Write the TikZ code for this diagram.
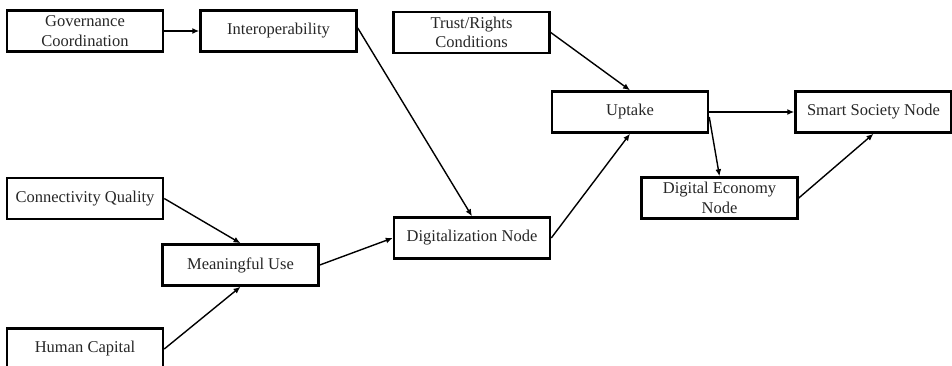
\documentclass[tikz,border=0pt]{standalone}
\usepackage{fontspec}
\setmainfont{Liberation Serif}
\usetikzlibrary{arrows.meta}
\begin{document}
\begin{tikzpicture}[x=1pt,y=-1pt,
  box/.style={draw, line width=2.5pt, minimum width=156pt, minimum height=41pt,
    inner sep=0pt, align=center, text=black!85, font=\fontsize{16.5}{19.5}\selectfont},
  arr/.style={line width=1.4pt, -{Latex[length=7pt,width=6pt]}}]
\useasboundingbox (0,0) rectangle (952,366);
\clip (0,0) rectangle (952,366);
\node[box] (gov) at (85,31) {Governance\\Coordination};
\node[box] (inter) at (278.5,31) {Interoperability};
\node[box] (trust) at (471.5,32.5) {Trust/Rights\\Conditions};
\node[box] (uptake) at (630,112) {Uptake};
\node[box] (smart) at (873.5,112) {Smart Society Node};
\node[box] (digecon) at (719.5,198) {Digital Economy\\Node};
\node[box] (conn) at (85,198.5) {Connectivity Quality};
\node[box] (mean) at (240.5,265) {Meaningful Use};
\node[box] (human) at (85,349) {Human Capital};
\node[box] (digit) at (472,238) {Digitalization Node};
\draw[arr] (gov.east) -- (inter.west);
\draw[arr] ([yshift=3pt]inter.east) -- (digit.north);
\draw[arr] (trust.east) -- (uptake.north);
\draw[arr] (conn.east) -- (mean.north);
\draw[arr] (human.east) -- (mean.south);
\draw[arr] (mean.east) -- (digit.west);
\draw[arr] (digit.east) -- (uptake.south);
\draw[arr] (uptake.east) -- (smart.west);
\draw[arr] ([yshift=-5pt]uptake.east) -- (digecon.north);
\draw[arr] (digecon.east) -- (smart.south);
\end{tikzpicture}
\end{document}
